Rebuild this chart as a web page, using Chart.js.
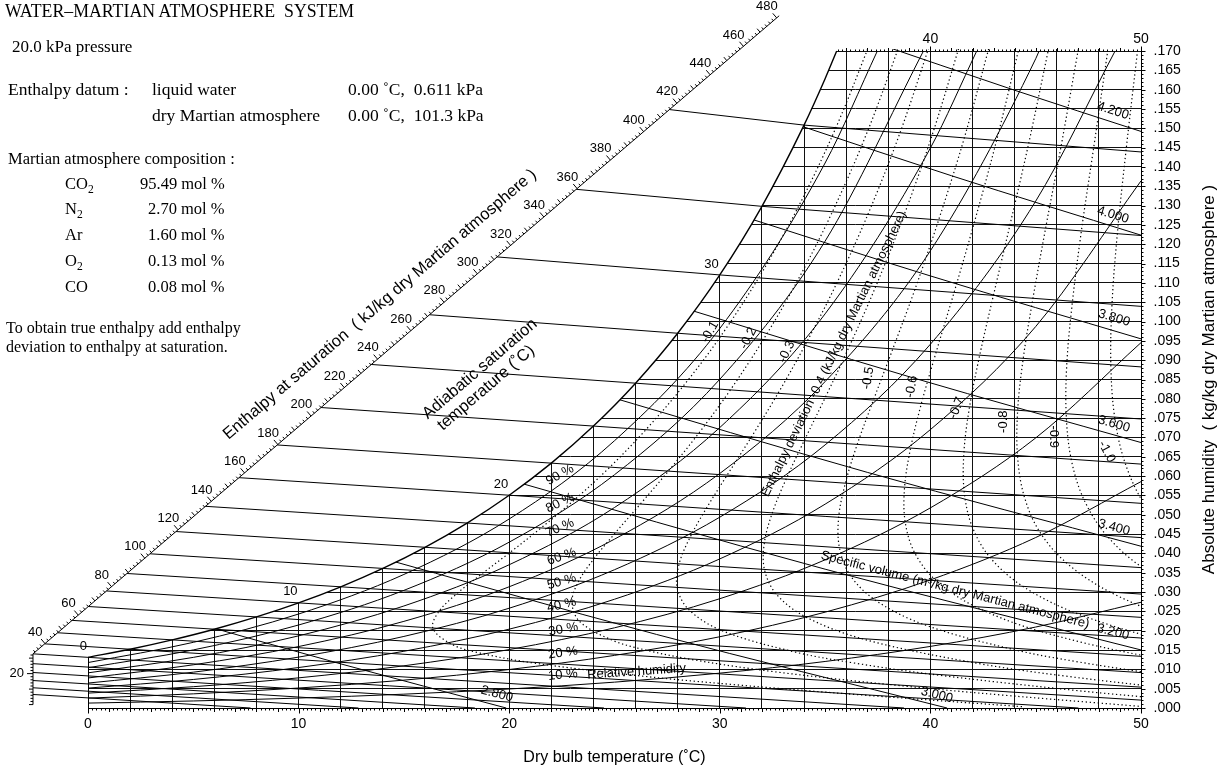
<!DOCTYPE html>
<html lang="en">
<head>
<meta charset="utf-8">
<title>Water–Martian atmosphere psychrometric chart</title>
<script src="https://cdn.jsdelivr.net/npm/chart.js@4.4.1/dist/chart.umd.min.js"></script>
<style>
  html, body { margin: 0; padding: 0; background: #fff; }
  #wrap { position: relative; width: 1218px; height: 771px; overflow: hidden; background: #fff; }
  #chart { position: absolute; left: 0; top: 0; }
  .note { position: absolute; font-family: "Liberation Serif", "Times New Roman", serif; color: #000; white-space: pre; line-height: 1; }
  .note sub { font-size: 0.7em; vertical-align: -0.35em; line-height: 0; }
</style>
</head>
<body>
<div id="wrap">
  <canvas id="chart" width="1218" height="771"></canvas>
  <div class="note" style="left:5px;top:3px;font-size:17.8px">WATER–MARTIAN ATMOSPHERE  SYSTEM</div>
  <div class="note" style="left:12px;top:38px;font-size:17px">20.0 kPa pressure</div>
  <div class="note" style="left:8px;top:81px;font-size:17.5px">Enthalpy datum :</div>
  <div class="note" style="left:152px;top:81px;font-size:17.5px">liquid water</div>
  <div class="note" style="left:348px;top:81px;font-size:17.5px">0.00 ˚C,  0.611 kPa</div>
  <div class="note" style="left:152px;top:107px;font-size:17.5px">dry Martian atmosphere</div>
  <div class="note" style="left:348px;top:107px;font-size:17.5px">0.00 ˚C,  101.3 kPa</div>
  <div class="note" style="left:8px;top:151px;font-size:16.5px">Martian atmosphere composition :</div>
  <div class="note" style="left:65px;top:176px;font-size:16.5px">CO<sub>2</sub></div>
  <div class="note" style="left:140px;top:176px;font-size:16.5px">95.49 mol %</div>
  <div class="note" style="left:65px;top:201px;font-size:16.5px">N<sub>2</sub></div>
  <div class="note" style="left:148px;top:201px;font-size:16.5px">2.70 mol %</div>
  <div class="note" style="left:65px;top:227px;font-size:16.5px">Ar</div>
  <div class="note" style="left:148px;top:227px;font-size:16.5px">1.60 mol %</div>
  <div class="note" style="left:65px;top:253px;font-size:16.5px">O<sub>2</sub></div>
  <div class="note" style="left:148px;top:253px;font-size:16.5px">0.13 mol %</div>
  <div class="note" style="left:65px;top:279px;font-size:16.5px">CO</div>
  <div class="note" style="left:148px;top:279px;font-size:16.5px">0.08 mol %</div>
  <div class="note" style="left:6px;top:320px;font-size:16px">To obtain true enthalpy add enthalpy</div>
  <div class="note" style="left:6px;top:339px;font-size:16px">deviation to enthalpy at saturation.</div>
</div>
<script>
// ---------------------------------------------------------------
// Psychrometric chart, water – Martian atmosphere, 20.0 kPa
// Temperatures in ˚C, humidity in kg water / kg dry Martian atmosphere
// ---------------------------------------------------------------

// Saturation line
const satTemps = [0, 2, 4, 6, 8, 10, 12, 14, 16, 18, 20, 22, 24, 26, 28, 30, 32, 34, 35, 35.55];
const satHumidity = [0.01311, 0.01521, 0.01763, 0.02039, 0.02357, 0.02720, 0.03136, 0.03612, 0.04159, 0.04786,
                     0.05506, 0.06336, 0.07295, 0.08405, 0.09697, 0.11206, 0.12981, 0.15083, 0.16283, 0.17000];
const satLabelTemps = [0, 10, 20, 30];

// Relative humidity lines (%)
const rhLevels = [10, 20, 30, 40, 50, 60, 70, 80, 90];
const rhTemps = [0, 5, 10, 15, 20, 25, 30, 35, 40, 45, 50];
const rh10 = [0.00127, 0.00182, 0.00257, 0.00358, 0.00492, 0.00669, 0.00902, 0.01204, 0.01594, 0.02095, 0.02736];
const rh20 = [0.00256, 0.00366, 0.00517, 0.00721, 0.00996, 0.01361, 0.01844, 0.02480, 0.03315, 0.04411, 0.05858];
const rh30 = [0.00385, 0.00551, 0.00780, 0.01092, 0.01512, 0.02075, 0.02828, 0.03834, 0.05179, 0.06988, 0.09454];
const rh40 = [0.00515, 0.00738, 0.01047, 0.01468, 0.02040, 0.02814, 0.03858, 0.05274, 0.07204, 0.09870, 0.13639];
const rh50 = [0.00645, 0.00927, 0.01317, 0.01852, 0.02582, 0.03578, 0.04938, 0.06808, 0.09413, 0.13115];
const rh60 = [0.00777, 0.01118, 0.01590, 0.02242, 0.03137, 0.04369, 0.06069, 0.08446, 0.11831, 0.16799];
const rh70 = [0.00909, 0.01310, 0.01867, 0.02640, 0.03707, 0.05188, 0.07257, 0.10199, 0.14490];
const rh80 = [0.01042, 0.01503, 0.02148, 0.03044, 0.04291, 0.06036, 0.08506, 0.12080];
const rh90 = [0.01176, 0.01699, 0.02432, 0.03456, 0.04891, 0.06916, 0.09821, 0.14102];
// where a curve leaves through the 0.170 top edge (null: it leaves through the 50 ˚C edge)
const rhTopTemps = [null, null, null, null, 48.77, 45.16, 42.20, 39.67, 37.48];
const rhLabelTemps = [22.55, 22.55, 22.57, 22.49, 22.49, 22.49, 22.41, 22.41, 22.41];
const rhLabelHumidity = [0.00854, 0.01423, 0.02036, 0.02665, 0.03268, 0.03915, 0.04658, 0.05305, 0.06029];
const rhLabelAngles = [-6, -8, -10, -13, -16, -19, -23, -26, -29];

// Adiabatic saturation temperature lines, with the enthalpy at saturation (kJ/kg)
const adiabaticTemps = [-10, -8, -6, -4, -2, 0, 2, 4, 6, 8, 10, 12, 14, 16, 18, 20, 22, 24, 26, 28, 30, 32, 34];
const adiabaticEnthalpy = [6.53, 10.86, 15.54, 20.73, 26.43, 32.78, 39.79, 47.60, 56.31, 66.06, 76.99, 89.28,
                           103.13, 118.78, 136.52, 156.67, 179.67, 206.00, 236.27, 271.25, 311.90, 359.45, 415.53];
const adiabaticEndTemps = [7.72, 12.84, 18.37, 24.50, 31.24, 38.75, 47.03, 50, 50, 50, 50, 50,
                           50, 50, 50, 50, 50, 50, 50, 50, 50, 50, 50];
const adiabaticEndHumidity = [0, 0, 0, 0, 0, 0, 0, 0.00204, 0.00540, 0.00916, 0.01337, 0.01811,
                              0.02345, 0.02948, 0.03632, 0.04409, 0.05296, 0.06311, 0.07478, 0.08826, 0.10393, 0.12226, 0.14388];

// Enthalpy-at-saturation scale (kJ/kg dry Martian atmosphere)
const enthalpyScaleLabels = [40, 60, 80, 100, 120, 140, 160, 180, 200, 220, 240, 260, 280, 300, 320, 340, 360, 380, 400, 420, 440, 460, 480];
const enthalpyLegLabels = [20];

// Specific volume lines (m³/kg dry Martian atmosphere)
const volumeLevels = [2.8, 3.0, 3.2, 3.4, 3.6, 3.8, 4.0, 4.2];
const volumeTemps = [[4, 12, 19.86], [13, 27, 40.79], [19, 35, 50], [24, 37, 50], [28, 39, 50], [31, 40, 50], [33, 41, 50], [37, 44, 50]];
const volumeHumidity = [[0.02371, 0.01142, 0], [0.04023, 0.01903, 0], [0.06058, 0.03592, 0.01502], [0.08177, 0.06098, 0.04186],
                        [0.10397, 0.08571, 0.06869], [0.12737, 0.11180, 0.09552], [0.15215, 0.13773, 0.12235], [0.17281, 0.15985, 0.14919]];
const volumeLabelTemps = [19.42, 40.31, 48.67, 48.72, 48.72, 48.72, 48.67, 48.67];
const volumeLabelHumidity = [0.00362, 0.00336, 0.01967, 0.04671, 0.07349, 0.10091, 0.12756, 0.15453];
const volumeLabelAngles = [15, 14, 14, 15, 16, 17, 17, 18];

// Enthalpy deviation lines (kJ/kg dry Martian atmosphere), [dry bulb, humidity]
const deviationLevels = [-0.1, -0.2, -0.3, -0.4, -0.5, -0.6, -0.7, -0.8, -0.9, -1.0];
const dev01 = [[44.35, 0.00035], [36.99, 0.00327], [30.30, 0.00622], [26.05, 0.00841], [21.15, 0.01165], [18.63, 0.01419],
               [17.30, 0.01641], [16.38, 0.02058], [16.64, 0.02481], [17.47, 0.02937], [18.63, 0.03442], [20.00, 0.04009],
               [21.50, 0.04653], [23.10, 0.05387], [24.77, 0.06228], [26.48, 0.07195], [28.24, 0.08313], [30.03, 0.09611],
               [31.84, 0.11127], [33.67, 0.12906], [35.51, 0.15013], [37.37, 0.17529]];
const dev02 = [[49.90, 0.00045], [43.43, 0.00334], [38.75, 0.00568], [32.55, 0.00941], [28.79, 0.01243], [26.40, 0.01510],
               [24.87, 0.01760], [23.34, 0.02242], [22.98, 0.02738], [23.29, 0.03271], [24.02, 0.03860], [25.02, 0.04520],
               [26.21, 0.05267], [27.54, 0.06119], [28.98, 0.07095], [30.49, 0.08221], [32.06, 0.09526], [33.68, 0.11047],
               [35.34, 0.12832], [37.03, 0.14943], [38.74, 0.17463]];
const dev03 = [[51.14, 0.00235], [46.75, 0.00463], [40.47, 0.00845], [36.32, 0.01169], [33.47, 0.01461], [30.10, 0.02003],
               [28.54, 0.02539], [27.98, 0.03101], [28.06, 0.03711], [28.56, 0.04387], [29.34, 0.05148], [30.33, 0.06010],
               [31.48, 0.06996], [32.75, 0.08129], [34.10, 0.09441], [35.53, 0.10967], [37.02, 0.12757], [38.55, 0.14872],
               [40.11, 0.17396]];
const dev04 = [[52.36, 0.00447], [46.38, 0.00828], [42.18, 0.01162], [36.94, 0.01764], [34.14, 0.02339], [32.71, 0.02930],
               [32.13, 0.03561], [32.11, 0.04255], [32.48, 0.05028], [33.13, 0.05902], [33.99, 0.06896], [35.01, 0.08038],
               [36.15, 0.09355], [37.39, 0.10888], [38.70, 0.12682], [40.07, 0.14802], [41.49, 0.17330]];
const dev05 = [[56.59, 0.00486], [51.00, 0.00864], [46.90, 0.01204], [43.85, 0.01525], [39.79, 0.02140], [37.47, 0.02759],
               [36.22, 0.03412], [35.69, 0.04122], [35.64, 0.04909], [35.95, 0.05793], [36.51, 0.06797], [37.28, 0.07946],
               [38.20, 0.09270], [39.25, 0.10808], [40.38, 0.12608], [41.60, 0.14732], [42.87, 0.17264]];
const dev06 = [[59.93, 0.00565], [50.82, 0.01287], [45.49, 0.01941], [42.26, 0.02589], [40.34, 0.03263], [39.28, 0.03989],
               [38.81, 0.04789], [38.77, 0.05685], [39.05, 0.06697], [39.56, 0.07854], [40.26, 0.09185], [41.11, 0.10728],
               [42.07, 0.12533], [43.13, 0.14661], [44.26, 0.17197]];
const dev07 = [[57.87, 0.01048], [51.24, 0.01742], [47.09, 0.02418], [44.49, 0.03113], [42.89, 0.03857], [42.00, 0.04670],
               [41.61, 0.05576], [41.59, 0.06598], [41.85, 0.07762], [42.33, 0.09099], [42.98, 0.10649], [43.76, 0.12458],
               [44.66, 0.14591], [45.64, 0.17131]];
const dev08 = [[57.03, 0.01543], [51.96, 0.02247], [48.66, 0.02964], [46.53, 0.03724], [45.20, 0.04550], [44.46, 0.05467],
               [44.14, 0.06498], [44.14, 0.07670], [44.40, 0.09014], [44.86, 0.10569], [45.46, 0.12384], [46.20, 0.14521],
               [47.03, 0.17065]];
const dev09 = [[56.85, 0.02077], [52.85, 0.02815], [50.18, 0.03591], [48.42, 0.04431], [47.32, 0.05359], [46.70, 0.06399],
               [46.45, 0.07578], [46.48, 0.08929], [46.74, 0.10490], [47.16, 0.12309], [47.74, 0.14451], [48.42, 0.16998]];
const dev10 = [[57.08, 0.02665], [53.85, 0.03458], [51.66, 0.04312], [50.19, 0.05250], [49.27, 0.06299], [48.76, 0.07486],
               [48.57, 0.08843], [48.62, 0.10410], [48.87, 0.12234], [49.28, 0.14380], [49.82, 0.16932]];
const deviationLabelTexts = ['-0.1', '-0.2', '-0.3', '-0.5', '-0.6', '-0.7', '-0.8', '-0.9', '-1.0'];
const deviationLabelTemps = [29.53, 31.35, 33.18, 37.04, 39.11, 41.25, 43.49, 45.87, 48.37];
const deviationLabelHumidity = [0.09729, 0.09566, 0.09219, 0.08539, 0.08314, 0.07763, 0.07408, 0.07020, 0.06632];
const deviationLabelAngles = [-60, -62, -65, -80, -80, -68, -90, 90, 62];

// ---------------------------------------------------------------
// Axis ranges and the oblique enthalpy scale
// ---------------------------------------------------------------
const X_MIN = -4.1785, X_MAX = 50;
const Y_MIN = 0, Y_MAX = 0.18320;
const W_TOP = 0.170;
const ENTHALPY_CORNER = 32.78;   // kJ/kg where the vertical leg meets the oblique scale
const SCALE_T0 = -2.612;         // dry bulb of the vertical leg

function enthalpyScalePoint(h) {
  if (h <= ENTHALPY_CORNER) return { x: SCALE_T0, y: 0.000885 + h * 0.00040062 };
  const d = h - ENTHALPY_CORNER;
  return { x: SCALE_T0 + d * 0.07896, y: 0.014017 + d * 0.00036794 };
}

const SANS = '"Liberation Sans", Arial, Helvetica, sans-serif';
const GRID = '#111';
const CLEAR = 'rgba(0,0,0,0)';

// ---------------------------------------------------------------
// Datasets
// ---------------------------------------------------------------
const datasets = [];
const toPoints = (temps, hums) => hums.map((w, i) => ({ x: temps[i], y: w }));
function addLine(points, extra) {
  datasets.push(Object.assign({
    data: points, showLine: true, pointRadius: 0, pointHoverRadius: 0, pointHitRadius: 0,
    borderColor: '#000', borderWidth: 1, backgroundColor: CLEAR, fill: false, tension: 0
  }, extra));
}

// relative humidity curves
[rh10, rh20, rh30, rh40, rh50, rh60, rh70, rh80, rh90].forEach((vals, i) => {
  const pts = toPoints(rhTemps, vals);
  if (rhTopTemps[i] !== null) pts.push({ x: rhTopTemps[i], y: W_TOP });
  addLine(pts, { order: 30, cubicInterpolationMode: 'monotone', borderWidth: 1 });
});

// specific volume lines
volumeLevels.forEach((v, i) => {
  addLine(toPoints(volumeTemps[i], volumeHumidity[i]), { order: 30, cubicInterpolationMode: 'monotone' });
});

// enthalpy deviation lines (dotted)
[dev01, dev02, dev03, dev04, dev05, dev06, dev07, dev08, dev09, dev10].forEach(curve => {
  addLine(curve.map(([t, w]) => ({ x: t, y: w })), {
    order: 30, tension: 0.35, capBezierPoints: false,
    borderDash: [1.3, 2.7], borderWidth: 1.2
  });
});

// blank areas: left of 0 ˚C and above the 0.170 edge
addLine([{ x: X_MIN, y: 0 }, { x: 0.02, y: 0 }], { order: 20, fill: 'end', backgroundColor: '#fff', borderColor: CLEAR });
addLine([{ x: 35.3, y: 0.1705 }, { x: X_MAX, y: 0.1705 }], { order: 20, fill: 'end', backgroundColor: '#fff', borderColor: CLEAR });

// saturation curve; everything above it is left blank
addLine(toPoints(satTemps, satHumidity), {
  order: 10, cubicInterpolationMode: 'monotone', fill: 'end', backgroundColor: '#fff', borderWidth: 1.4
});

// adiabatic saturation lines from the enthalpy scale through the saturation curve
adiabaticTemps.forEach((ts, i) => {
  const pts = [enthalpyScalePoint(adiabaticEnthalpy[i])];
  const k = satTemps.indexOf(ts);
  if (k >= 0) pts.push({ x: ts, y: satHumidity[k] });
  pts.push({ x: adiabaticEndTemps[i], y: adiabaticEndHumidity[i] });
  addLine(pts, { order: 0, borderWidth: 1 });
});

// ---------------------------------------------------------------
// Axes, scales and labels drawn on top of the plot
// ---------------------------------------------------------------
function label(ctx, str, x, y, opt = {}) {
  const { size = 13, align = 'center', baseline = 'middle', angle = 0 } = opt;
  ctx.save();
  ctx.translate(x, y);
  if (angle) ctx.rotate(angle * Math.PI / 180);
  ctx.font = `${size}px ${SANS}`;
  ctx.textAlign = align;
  ctx.textBaseline = baseline;
  ctx.fillStyle = '#000';
  ctx.fillText(str, 0, 0);
  ctx.restore();
}

const decorations = {
  id: 'decorations',
  afterDatasetsDraw(chart) {
    const { ctx } = chart;
    const xs = chart.scales.x, ys = chart.scales.y;
    const X = t => xs.getPixelForValue(t);
    const Y = w => ys.getPixelForValue(w);
    const seg = (x1, y1, x2, y2) => { ctx.beginPath(); ctx.moveTo(x1, y1); ctx.lineTo(x2, y2); ctx.stroke(); };

    ctx.save();
    ctx.strokeStyle = '#000';
    ctx.lineWidth = 1;

    // bottom, left (0 ˚C), right and top edges with their ticks
    const bottom = Math.round(Y(0)) + 0.5;
    const right = Math.round(X(X_MAX)) + 0.5;
    const top = Math.round(Y(W_TOP)) + 0.5;
    const left = Math.round(X(0)) + 0.5;
    seg(left - 0.5, bottom, right + 0.5, bottom);
    seg(left, bottom, left, Y(satHumidity[0]));
    seg(right, bottom + 0.5, right, top - 0.5);
    for (let i = 0; i <= 250; i++) {
      const t = i * 0.2, x = Math.round(X(t)) + 0.5;
      const len = i % 50 === 0 ? 5 : (i % 5 === 0 ? 3.5 : 2);
      seg(x, bottom, x, bottom + len);
      if (t >= 35.6) seg(x, top, x, top - len);
    }
    for (let j = 0; j <= 170; j++) {
      const y = Math.round(Y(j / 1000)) + 0.5;
      seg(right, y, right + (j % 5 === 0 ? 4 : 2), y);
    }
    for (let t = 0; t <= 50; t += 10) label(ctx, String(t), X(t), bottom + 16, { size: 14 });
    [40, 50].forEach(t => label(ctx, String(t), X(t), top - 12, { size: 14 }));
    for (let j = 0; j <= 170; j += 5) {
      label(ctx, '.' + String(j).padStart(3, '0'), right + 12, Y(j / 1000), { size: 14, align: 'left' });
    }
    label(ctx, 'Dry bulb temperature (˚C)', (X(0) + X(50)) / 2, 758, { size: 16 });
    label(ctx, 'Absolute humidity  ( kg/kg dry Martian atmosphere )', 1209, Y(0.085), { size: 17, angle: -90 });

    // enthalpy at saturation scale
    const E = h => { const p = enthalpyScalePoint(h); return { x: X(p.x), y: Y(p.y) }; };
    const c = E(ENTHALPY_CORNER), far = E(481.5);
    const L = Math.hypot(far.x - c.x, far.y - c.y);
    const ux = (far.x - c.x) / L, uy = (far.y - c.y) / L;
    const nx = uy, ny = -ux;
    seg(c.x, c.y, far.x, far.y);
    for (let h = 34; h <= 480; h += 2) {
      const p = E(h), len = h % 20 === 0 ? 6 : (h % 10 === 0 ? 4.5 : 2.5);
      seg(p.x, p.y, p.x + nx * len, p.y + ny * len);
    }
    enthalpyScaleLabels.forEach(h => { const p = E(h); label(ctx, String(h), p.x + nx * 15, p.y + ny * 15, { size: 13 }); });
    const leg0 = E(0);
    seg(leg0.x, leg0.y, c.x, c.y);
    for (let h = 0; h <= 32; h += 2) {
      const p = E(h), len = h === 20 ? 6 : (h % 10 === 0 ? 4 : 2.5);
      seg(p.x, p.y, p.x - len, p.y);
    }
    enthalpyLegLabels.forEach(h => { const p = E(h); label(ctx, String(h), p.x - 9, p.y, { size: 13, align: 'right' }); });
    const ang = Math.atan2(uy, ux) * 180 / Math.PI;
    const tp = E(257);
    label(ctx, 'Enthalpy at saturation  ( kJ/kg dry Martian atmosphere )', tp.x + nx * 40, tp.y + ny * 40, { size: 16.5, angle: ang });
    label(ctx, 'Adiabatic saturation', X(18.61), Y(0.08772), { size: 16.5, angle: ang });
    label(ctx, 'temperature (˚C)', X(18.90), Y(0.08280), { size: 16.5, angle: ang });

    // adiabatic saturation temperatures on the saturation curve
    satLabelTemps.forEach(t => {
      const k = satTemps.indexOf(t);
      label(ctx, String(t), X(t) - 1, Y(satHumidity[k]) - 11, { size: 13, align: 'right' });
    });

    // relative humidity
    rhLevels.forEach((lv, i) => {
      label(ctx, lv + ' %', X(rhLabelTemps[i]), Y(rhLabelHumidity[i]), { size: 13, angle: rhLabelAngles[i] });
    });
    label(ctx, 'Relative humidity', X(26.05), Y(0.00939), { size: 13, angle: -4 });

    // specific volume
    volumeLevels.forEach((v, i) => {
      label(ctx, v.toFixed(3), X(volumeLabelTemps[i]), Y(volumeLabelHumidity[i]), { size: 13, angle: volumeLabelAngles[i] });
    });
    label(ctx, 'Specific volume (m³/kg dry Martian atmosphere)', X(41.17), Y(0.03053), { size: 13, angle: 14.5 });

    // enthalpy deviation
    deviationLabelTexts.forEach((s, i) => {
      label(ctx, s, X(deviationLabelTemps[i]), Y(deviationLabelHumidity[i]), { size: 13, angle: deviationLabelAngles[i] });
    });
    label(ctx, 'Enthalpy deviation -0.4 (kJ/kg dry Martian atmosphere)', X(35.42), Y(0.09160), { size: 13, angle: -64 });

    ctx.restore();
  }
};

new Chart(document.getElementById('chart'), {
  type: 'scatter',
  data: { datasets },
  options: {
    responsive: false,
    maintainAspectRatio: false,
    animation: false,
    devicePixelRatio: 1,
    events: [],
    layout: { padding: 0 },
    plugins: { legend: { display: false }, tooltip: { enabled: false }, title: { display: false } },
    scales: {
      x: {
        type: 'linear', position: 'bottom', min: X_MIN, max: X_MAX,
        afterFit: s => { s.height = 63; s.paddingLeft = 0; s.paddingRight = 0; },
        border: { display: false },
        ticks: { display: false, stepSize: 2 },
        grid: {
          drawTicks: false, lineWidth: 1,
          color: c => (c.tick && c.tick.value > 0.001 && c.tick.value < 49.99) ? GRID : CLEAR
        }
      },
      y: {
        type: 'linear', position: 'right', min: Y_MIN, max: Y_MAX,
        afterFit: s => { s.width = 77; s.paddingTop = 0; s.paddingBottom = 0; },
        border: { display: false },
        ticks: { display: false, stepSize: 0.005 },
        grid: {
          drawTicks: false, lineWidth: 1,
          color: c => (c.tick && c.tick.value > 0.001 && c.tick.value < 0.1705) ? GRID : CLEAR
        }
      }
    }
  },
  plugins: [decorations]
});
</script>
</body>
</html>
